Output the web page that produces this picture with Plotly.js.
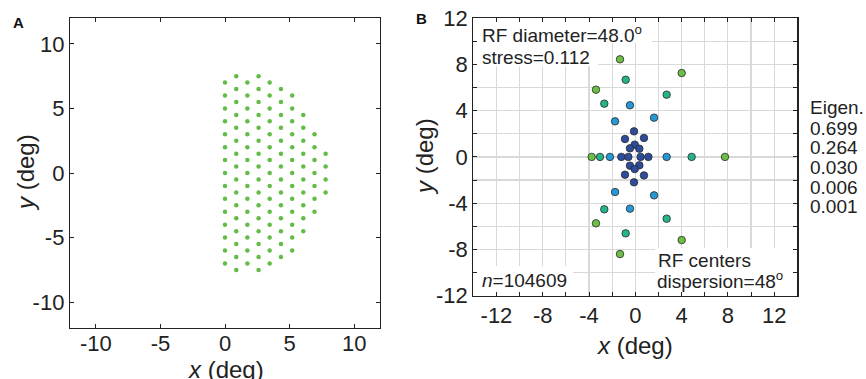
<!DOCTYPE html>
<html>
<head>
<meta charset="utf-8">
<script src="https://cdn.plot.ly/plotly-3.0.1.min.js"></script>
<style>html,body{margin:0;padding:0;background:#fff;}#chart{width:866px;height:379px;}</style>
</head>
<body>
<div id="chart"></div>
<script>
// Panel A: hexagonal grid of sampled RF positions (deg), one column per x value
const hexColX = [0, 0.87, 1.73, 2.6, 3.46, 4.33, 5.2, 6.06, 6.93, 7.79];
const hexColY = [
  [7, 6, 5, 4, 3, 2, 1, 0, -1, -2, -3, -4, -5, -6, -7],
  [7.5, 6.5, 5.5, 4.5, 3.5, 2.5, 1.5, 0.5, -0.5, -1.5, -2.5, -3.5, -4.5, -5.5, -6.5, -7.5],
  [7, 6, 5, 4, 3, 2, 1, 0, -1, -2, -3, -4, -5, -6, -7],
  [7.5, 6.5, 5.5, 4.5, 3.5, 2.5, 1.5, 0.5, -0.5, -1.5, -2.5, -3.5, -4.5, -5.5, -6.5, -7.5],
  [7, 6, 5, 4, 3, 2, 1, 0, -1, -2, -3, -4, -5, -6, -7],
  [6.5, 5.5, 4.5, 3.5, 2.5, 1.5, 0.5, -0.5, -1.5, -2.5, -3.5, -4.5, -5.5, -6.5],
  [6, 5, 4, 3, 2, 1, 0, -1, -2, -3, -4, -5, -6],
  [4.5, 3.5, 2.5, 1.5, 0.5, -0.5, -1.5, -2.5, -3.5, -4.5],
  [3, 2, 1, 0, -1, -2, -3],
  [1.5, 0.5, -0.5, -1.5]
];

// Panel B: RF centers (deg), grouped by ring
const innerX = [-0.11, -0.89, 0.75, -0.05, -0.46, 0.35, -1.21, -0.60, 0.46, 1.13, -0.46, 0.35, -0.05, -0.89, 0.75, -0.11];
const innerY = [2.21, 1.55, 1.64, 1.06, 0.74, 0.71, 0, 0, 0, 0, -0.76, -0.73, -1.05, -1.54, -1.60, -2.20];
const ring1X = [-0.46, -1.75, 1.62, -2.19, 2.71, -1.75, 1.62, -0.46];
const ring1Y = [4.47, 3.08, 3.40, 0, 0, -3.04, -3.33, -4.48];
const ring2X = [-0.83, 2.71, -2.68, -3.05, 4.87, -2.68, 2.71, -0.83];
const ring2Y = [6.68, 5.39, 4.61, 0, 0, -4.54, -5.35, -6.62];
const ring3X = [-1.32, 4.01, -3.40, -3.77, 7.75, -3.40, 4.01, -1.32];
const ring3Y = [8.45, 7.26, 5.82, 0, 0, -5.75, -7.20, -8.41];

// Tick values and labels
const ticksA = [-10, -5, 0, 5, 10];
const ticksAText = ['-10', '-5', '0', '5', '10'];
const ticksB = [-12, -8, -4, 0, 4, 8, 12];
const ticksBText = ['-12', '-8', '-4', '0', '4', '8', '12'];
const minorBX = [-14, -12, -10, -8, -6, -4, -2, 0, 2, 4, 6, 8, 10, 12, 14];
const minorBY = [-12, -10, -8, -6, -4, -2, 0, 2, 4, 6, 8, 10, 12];

// Text
const axisTitleX = '<i>x</i> (deg)';
const axisTitleY = '<i>y</i> (deg)';
const eigenLabel = 'Eigen.';
const eigenValues = ['0.699', '0.264', '0.030', '0.006', '0.001'];

const W = 866, H = 379;
const px = v => v / W;
const py = v => 1 - v / H;
const FAM = 'Liberation Sans, Arial, sans-serif';

const ax = [], ay = [];
hexColX.forEach((x, i) => hexColY[i].forEach(y => { ax.push(x); ay.push(y); }));

const ringColors = ['#2d4c9c', '#2499d4', '#25b38b', '#6cbf46'];
const groups = [[innerX, innerY], [ring1X, ring1Y], [ring2X, ring2Y], [ring3X, ring3Y]];

const traces = [{
  type: 'scatter', mode: 'markers', x: ax, y: ay, xaxis: 'x', yaxis: 'y',
  marker: {size: 4.5, color: '#62bc46'}, showlegend: false, hoverinfo: 'skip'
}];
groups.forEach((g, i) => traces.push({
  type: 'scatter', mode: 'markers', x: g[0], y: g[1], xaxis: 'x2', yaxis: 'y2',
  marker: {size: 7.5, color: ringColors[i], line: {width: 0.8, color: '#2a2a2a'}},
  showlegend: false, hoverinfo: 'skip'
}));

const lineC = '#222';
const tickFont = {family: FAM, size: 22, color: '#222'};
const common = {
  showline: true, linecolor: lineC, linewidth: 1.2, mirror: 'ticks',
  ticks: 'inside', ticklen: 4, tickwidth: 1, tickcolor: lineC,
  zeroline: false, automargin: false, tickfont: tickFont, fixedrange: true
};

const txt = (x, y, text, extra) => Object.assign({
  xref: 'paper', yref: 'paper', x: px(x), y: py(y), text: text,
  xanchor: 'left', yanchor: 'middle', showarrow: false, borderpad: 0,
  font: {family: FAM, size: 19, color: '#222'}
}, extra || {});
const titleFont = {family: FAM, size: 24, color: '#222'};

const annotations = [
  txt(12, 22, '<b>A</b>', {font: {family: FAM, size: 15, color: '#111'}}),
  txt(415, 18, '<b>B</b>', {font: {family: FAM, size: 15, color: '#111'}}),
  txt(225.7, 369, axisTitleX, {xanchor: 'center', font: titleFont}),
  txt(25, 173, axisTitleY, {xanchor: 'center', textangle: -90, font: titleFont}),
  txt(635.3, 345, axisTitleX, {xanchor: 'center', font: titleFont}),
  txt(425, 157, axisTitleY, {xanchor: 'center', textangle: -90, font: titleFont}),
  txt(481, 34, 'RF diameter=48.0<sup>o</sup>'),
  txt(481, 57, 'stress=0.112'),
  txt(481, 280, '<i>n</i>=104609'),
  txt(657, 260, 'RF centers'),
  txt(656, 280, 'dispersion=48<sup>o</sup>'),
  txt(809, 107, eigenLabel)
];
eigenValues.forEach((v, i) => annotations.push(txt(809, 128 + i * 19.7, v)));

const box = (x0, x1, y0, y1) => ({
  type: 'rect', xref: 'x2', yref: 'y2', x0: x0, x1: x1, y0: y0, y1: y1,
  fillcolor: '#ffffff', line: {width: 0}, layer: 'between'
});

const minorB = vals => ({tickvals: vals, ticks: 'inside', ticklen: 4, tickwidth: 1, tickcolor: lineC,
  showgrid: true, gridcolor: '#d9d9d9', gridwidth: 1.2});

const layout = {
  width: W, height: H, margin: {l: 0, r: 0, t: 0, b: 0},
  paper_bgcolor: '#fff', plot_bgcolor: '#fff', showlegend: false,
  font: {family: FAM, color: '#222'},
  xaxis: Object.assign({}, common, {
    domain: [px(70), px(380)], range: [-12, 12], tickvals: ticksA, ticktext: ticksAText, showgrid: false,
    anchor: 'y', ticklabelstandoff: -5
  }),
  yaxis: Object.assign({}, common, {
    domain: [py(328), py(18)], range: [-12, 12], tickvals: ticksA, ticktext: ticksAText, showgrid: false,
    anchor: 'x'
  }),
  xaxis2: Object.assign({}, common, {
    domain: [px(473.3), px(797.3)], range: [-14, 14], tickvals: ticksB, ticktext: ticksBText,
    showgrid: true, gridcolor: '#d9d9d9', gridwidth: 1.2, minor: minorB(minorBX),
    anchor: 'y2'
  }),
  yaxis2: Object.assign({}, common, {
    domain: [py(295.5), py(18.3)], range: [-12, 12], tickvals: ticksB, ticktext: ticksBText,
    showgrid: true, gridcolor: '#d9d9d9', gridwidth: 1.2, minor: minorB(minorBY),
    anchor: 'x2'
  }),
  shapes: [
    box(-14, 1.44, 9.86, 12),
    box(-14, -3.22, 7.85, 9.86),
    box(-14, -5.38, -9.45, -12),
    box(1.70, 14, -7.89, -12)
  ],
  annotations: annotations
};

Plotly.newPlot('chart', traces, layout, {displayModeBar: false, staticPlot: true});
</script>
</body>
</html>
